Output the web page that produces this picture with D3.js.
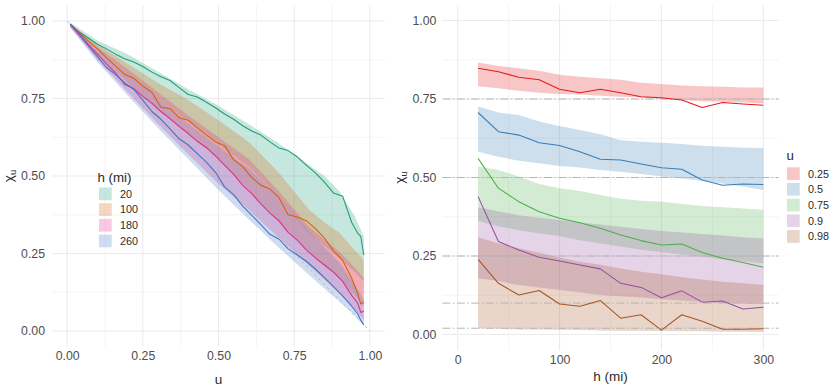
<!DOCTYPE html>
<html lang="en">
    <head>
        <meta charset="utf-8">
        <title>Chi_u curves by distance and by threshold</title>
        <script type="text/javascript" src="https://d3js.org/d3.v7.min.js"></script>
        <style type="text/css">
            body { margin: 0; background: #fff; }
            text { font-family: "Liberation Sans", Arial, sans-serif; font-weight: 400; }
        </style>
    </head>
    <body>
        <script type="text/javascript">
            //Width and height
            var w = 830;
            var h = 392;

            // ---- left panel: chi_u against u, one curve per distance ----
            var distances = ["20", "100", "180", "260"];
            var distColors = ["#1B9E77", "#D95F02", "#E7298A", "#4472C4"];

            var uRibbon = [0.01, 0.1, 0.2, 0.3, 0.4, 0.5, 0.6, 0.7, 0.8, 0.85, 0.9, 0.95, 0.98];
            var low20  = [0.985, 0.91, 0.83, 0.75, 0.675, 0.6, 0.53, 0.43, 0.315, 0.275, 0.235, 0.19, 0.16];
            var high20 = [0.995, 0.937, 0.893, 0.836, 0.78, 0.727, 0.667, 0.605, 0.535, 0.50, 0.45, 0.37, 0.305];
            var low100  = [0.98, 0.89, 0.8, 0.712, 0.635, 0.555, 0.455, 0.35, 0.255, 0.21, 0.17, 0.115, 0.08];
            var high100 = [0.99, 0.925, 0.862, 0.8, 0.745, 0.68, 0.61, 0.51, 0.39, 0.35, 0.316, 0.26, 0.23];
            var low180  = [0.98, 0.875, 0.77, 0.668, 0.57, 0.475, 0.39, 0.3, 0.21, 0.165, 0.12, 0.07, 0.035];
            var high180 = [0.99, 0.915, 0.845, 0.77, 0.695, 0.625, 0.555, 0.45, 0.335, 0.295, 0.255, 0.205, 0.17];
            var low260  = [0.98, 0.868, 0.76, 0.655, 0.555, 0.455, 0.36, 0.268, 0.18, 0.137, 0.094, 0.05, 0.015];
            var high260 = [0.988, 0.905, 0.83, 0.75, 0.67, 0.595, 0.525, 0.43, 0.32, 0.27, 0.22, 0.15, 0.1];

            var uLine = [0.01, 0.04, 0.07, 0.10, 0.13, 0.16, 0.19, 0.22, 0.25, 0.28, 0.31, 0.34, 0.37, 0.40, 0.43, 0.46, 0.49, 0.52,
                         0.55, 0.58, 0.61, 0.64, 0.67, 0.70, 0.73, 0.76, 0.79, 0.82, 0.85, 0.88, 0.91, 0.94, 0.96, 0.97, 0.98];
            var chi20  = [0.99, 0.965, 0.945, 0.925, 0.91, 0.893, 0.878, 0.868, 0.853, 0.835, 0.82, 0.808, 0.785, 0.763, 0.755, 0.738, 0.72, 0.70,
                          0.683, 0.662, 0.645, 0.632, 0.61, 0.59, 0.582, 0.562, 0.535, 0.51, 0.48, 0.445, 0.435, 0.35, 0.315, 0.305, 0.245];
            var chi100 = [0.99, 0.963, 0.935, 0.91, 0.882, 0.855, 0.828, 0.815, 0.79, 0.77, 0.722, 0.718, 0.688, 0.68, 0.655, 0.632, 0.61, 0.598,
                          0.552, 0.53, 0.495, 0.47, 0.458, 0.43, 0.375, 0.368, 0.356, 0.33, 0.3, 0.258, 0.228, 0.17, 0.12, 0.087, 0.093];
            var chi180 = [0.99, 0.96, 0.925, 0.893, 0.862, 0.833, 0.795, 0.782, 0.757, 0.735, 0.708, 0.685, 0.66, 0.637, 0.612, 0.592, 0.565, 0.535,
                          0.505, 0.47, 0.443, 0.41, 0.38, 0.355, 0.318, 0.293, 0.262, 0.236, 0.213, 0.19, 0.16, 0.115, 0.09, 0.06, 0.064];
            var chi260 = [0.99, 0.955, 0.92, 0.885, 0.85, 0.828, 0.8, 0.78, 0.745, 0.708, 0.683, 0.652, 0.62, 0.6, 0.572, 0.545, 0.512, 0.465,
                          0.44, 0.403, 0.373, 0.343, 0.312, 0.296, 0.265, 0.245, 0.225, 0.2, 0.172, 0.143, 0.113, 0.08, 0.055, 0.035, 0.02];

            var uTicks = [0, 0.25, 0.5, 0.75, 1];
            var uMinor = [0.125, 0.375, 0.625, 0.875];

            // ---- right panel: chi_u against distance, one curve per threshold ----
            var thresholds = ["0.25", "0.5", "0.75", "0.9", "0.98"];
            var thrColors = ["#E41A1C", "#377EB8", "#4DAF4A", "#984EA3", "#A65628"];
            var hMiles = [20, 40, 60, 80, 100, 120, 140, 160, 180, 200, 220, 240, 260, 280, 300];

            var chiU025  = [0.848, 0.837, 0.819, 0.811, 0.781, 0.770, 0.781, 0.770, 0.757, 0.754, 0.747, 0.723, 0.739, 0.734, 0.730];
            var lowU025  = [0.791, 0.784, 0.776, 0.770, 0.766, 0.764, 0.760, 0.757, 0.755, 0.751, 0.747, 0.743, 0.741, 0.739, 0.736];
            var highU025 = [0.866, 0.855, 0.848, 0.840, 0.827, 0.821, 0.816, 0.811, 0.802, 0.798, 0.793, 0.791, 0.789, 0.787, 0.787];

            var chiU05  = [0.707, 0.646, 0.635, 0.611, 0.602, 0.582, 0.558, 0.556, 0.543, 0.531, 0.526, 0.492, 0.475, 0.479, 0.478];
            var lowU05  = [0.582, 0.566, 0.553, 0.545, 0.537, 0.532, 0.524, 0.518, 0.511, 0.503, 0.497, 0.490, 0.481, 0.471, 0.460];
            var highU05 = [0.726, 0.707, 0.699, 0.678, 0.664, 0.651, 0.638, 0.619, 0.614, 0.611, 0.607, 0.601, 0.598, 0.595, 0.594];

            var chiU075  = [0.561, 0.466, 0.423, 0.391, 0.370, 0.356, 0.338, 0.317, 0.299, 0.285, 0.288, 0.261, 0.243, 0.229, 0.214];
            var lowU075  = [0.362, 0.345, 0.332, 0.322, 0.314, 0.300, 0.290, 0.280, 0.270, 0.262, 0.255, 0.248, 0.240, 0.233, 0.227];
            var highU075 = [0.535, 0.524, 0.503, 0.479, 0.466, 0.457, 0.444, 0.432, 0.426, 0.423, 0.416, 0.409, 0.405, 0.401, 0.397];

            var chiU09  = [0.439, 0.296, 0.269, 0.246, 0.234, 0.221, 0.209, 0.163, 0.150, 0.117, 0.139, 0.103, 0.107, 0.081, 0.087];
            var lowU09  = [0.179, 0.170, 0.158, 0.150, 0.142, 0.134, 0.126, 0.122, 0.118, 0.112, 0.108, 0.104, 0.100, 0.099, 0.097];
            var highU09 = [0.405, 0.392, 0.380, 0.372, 0.365, 0.357, 0.350, 0.343, 0.336, 0.330, 0.325, 0.320, 0.315, 0.310, 0.306];

            var chiU098  = [0.239, 0.163, 0.126, 0.140, 0.097, 0.090, 0.108, 0.052, 0.063, 0.014, 0.063, 0.042, 0.017, 0.017, 0.018];
            var lowU098  = [0.020, 0.018, 0.016, 0.016, 0.015, 0.014, 0.013, 0.012, 0.012, 0.011, 0.010, 0.010, 0.009, 0.009, 0.008];
            var highU098 = [0.310, 0.290, 0.275, 0.260, 0.245, 0.232, 0.222, 0.210, 0.200, 0.192, 0.182, 0.175, 0.168, 0.163, 0.158];

            var refLevels = [0.75, 0.5, 0.25, 0.1, 0.02];
            var hTicks = [0, 100, 200, 300];
            var hMinor = [50, 150, 250];
            var chiTicks = [0, 0.25, 0.5, 0.75, 1];
            var chiMinor = [0.125, 0.375, 0.625, 0.875];

            var fontStack = '"Liberation Sans", Arial, sans-serif';
            var tickColor = "#4D4D4D";
            var titleColor = "#2B2B2B";
            var fillAlpha = 0.25;

            //Create SVG element
            var svg = d3.select("body")
                        .append("svg")
                        .attr("width", w)
                        .attr("height", h);

            function zipRibbon(xs, lo, hi) {
                return xs.map(function(x, i) { return {x: x, lo: lo[i], hi: hi[i]}; });
            }
            function zipLine(xs, ys) {
                return xs.map(function(x, i) { return {x: x, y: ys[i]}; });
            }

            function drawGrid(g, x, y, xMajor, xMinorV, yMajor, yMinorV) {
                var x0 = x.range()[0], x1 = x.range()[1];
                var y0 = y.range()[0], y1 = y.range()[1];
                g.selectAll("line.ymin").data(yMinorV).enter().append("line")
                    .attr("x1", x0).attr("x2", x1)
                    .attr("y1", function(d) { return y(d); }).attr("y2", function(d) { return y(d); })
                    .attr("stroke", "#EBEBEB").attr("stroke-width", 0.55);
                g.selectAll("line.xmin").data(xMinorV).enter().append("line")
                    .attr("y1", y0).attr("y2", y1)
                    .attr("x1", function(d) { return x(d); }).attr("x2", function(d) { return x(d); })
                    .attr("stroke", "#EBEBEB").attr("stroke-width", 0.55);
                g.selectAll("line.ymaj").data(yMajor).enter().append("line")
                    .attr("x1", x0).attr("x2", x1)
                    .attr("y1", function(d) { return y(d); }).attr("y2", function(d) { return y(d); })
                    .attr("stroke", "#EBEBEB").attr("stroke-width", 1.07);
                g.selectAll("line.xmaj").data(xMajor).enter().append("line")
                    .attr("y1", y0).attr("y2", y1)
                    .attr("x1", function(d) { return x(d); }).attr("x2", function(d) { return x(d); })
                    .attr("stroke", "#EBEBEB").attr("stroke-width", 1.07);
            }

            function drawAxes(x, y, xTicks, xFmt, yTicks, xPad, yPad) {
                var xa = svg.append("g")
                    .attr("transform", "translate(0," + y.range()[0] + ")")
                    .call(d3.axisBottom(x).tickValues(xTicks).tickFormat(xFmt).tickSize(0).tickPadding(xPad));
                var ya = svg.append("g")
                    .attr("transform", "translate(" + x.range()[0] + ",0)")
                    .call(d3.axisLeft(y).tickValues(yTicks).tickFormat(d3.format(".2f")).tickSize(0).tickPadding(yPad));
                [xa, ya].forEach(function(a) {
                    a.select(".domain").remove();
                    a.selectAll("text")
                        .attr("font-family", fontStack)
                        .attr("font-size", "12.3px")
                        .attr("fill", tickColor);
                });
            }

            function chiTitle(cx, cy) {
                var t = svg.append("text")
                    .attr("transform", "translate(" + cx + "," + cy + ") rotate(-90)")
                    .attr("text-anchor", "middle")
                    .attr("font-family", fontStack)
                    .attr("font-size", "13.5px")
                    .attr("font-weight", 400)
                    .attr("fill", titleColor);
                t.append("tspan").text("χ");
                t.append("tspan").attr("font-size", "9.5px").attr("dy", "3").text("u");
            }

            // ================= LEFT PANEL =================
            var xL = d3.scaleLinear().domain([-0.05, 1.05]).range([52, 385]);
            var yL = d3.scaleLinear().domain([-0.05, 1.05]).range([346.5, 5.5]);

            var gL = svg.append("g");
            drawGrid(gL, xL, yL, uTicks, uMinor, uTicks, uMinor);

            var ribbonsL = [zipRibbon(uRibbon, low20, high20), zipRibbon(uRibbon, low100, high100),
                            zipRibbon(uRibbon, low180, high180), zipRibbon(uRibbon, low260, high260)];
            var linesL = [zipLine(uLine, chi20), zipLine(uLine, chi100), zipLine(uLine, chi180), zipLine(uLine, chi260)];

            var areaL = d3.area()
                .x(function(d) { return xL(d.x); })
                .y0(function(d) { return yL(d.lo); })
                .y1(function(d) { return yL(d.hi); });
            var lineL = d3.line()
                .x(function(d) { return xL(d.x); })
                .y(function(d) { return yL(d.y); });

            gL.selectAll("path.rib").data(ribbonsL).enter().append("path")
                .attr("d", areaL)
                .attr("fill", function(d, i) { return distColors[i]; })
                .attr("fill-opacity", fillAlpha);

            // reference diagonal 1 - u
            gL.append("path")
                .attr("d", lineL([{x: 0, y: 1}, {x: 1, y: 0}]))
                .attr("fill", "none")
                .attr("stroke", "#BEBEBE")
                .attr("stroke-width", 1)
                .attr("stroke-dasharray", "3,3");

            gL.selectAll("path.ln").data(linesL).enter().append("path")
                .attr("d", lineL)
                .attr("fill", "none")
                .attr("stroke", function(d, i) { return distColors[i]; })
                .attr("stroke-width", 1.05)
                .attr("stroke-linejoin", "round");

            drawAxes(xL, yL, uTicks, d3.format(".2f"), chiTicks, 5, 7);

            svg.append("text")
                .attr("x", 218.5).attr("y", 384)
                .attr("text-anchor", "middle")
                .attr("font-family", fontStack).attr("font-size", "13.5px").attr("font-weight", 400)
                .attr("fill", titleColor)
                .text("u");
            chiTitle(13, 176);

            // legend inside the panel
            var legL = svg.append("g");
            legL.append("text")
                .attr("x", 97.5).attr("y", 182)
                .attr("font-family", fontStack).attr("font-size", "13.3px").attr("font-weight", 400)
                .attr("fill", titleColor)
                .text("h (mi)");
            legL.selectAll("rect").data(distances).enter().append("rect")
                .attr("x", 99).attr("y", function(d, i) { return 187.5 + i * 15.7; })
                .attr("width", 12.7).attr("height", 12.7)
                .attr("fill", function(d, i) { return distColors[i]; })
                .attr("fill-opacity", fillAlpha);
            legL.selectAll("text.lab").data(distances).enter().append("text")
                .attr("x", 120).attr("y", function(d, i) { return 187.5 + i * 15.7 + 10.2; })
                .attr("font-family", fontStack).attr("font-size", "10.8px")
                .attr("fill", titleColor)
                .text(function(d) { return d; });

            // ================= RIGHT PANEL =================
            var xR = d3.scaleLinear().domain([-15, 315]).range([442.4, 778.6]);
            var yR = d3.scaleLinear().domain([-0.05, 1.05]).range([350.2, 4.8]);

            var gR = svg.append("g");
            drawGrid(gR, xR, yR, hTicks, hMinor, chiTicks, chiMinor);

            var ribbonsR = [zipRibbon(hMiles, lowU025, highU025), zipRibbon(hMiles, lowU05, highU05),
                            zipRibbon(hMiles, lowU075, highU075), zipRibbon(hMiles, lowU09, highU09),
                            zipRibbon(hMiles, lowU098, highU098)];
            var linesR = [zipLine(hMiles, chiU025), zipLine(hMiles, chiU05), zipLine(hMiles, chiU075),
                          zipLine(hMiles, chiU09), zipLine(hMiles, chiU098)];

            var areaR = d3.area()
                .x(function(d) { return xR(d.x); })
                .y0(function(d) { return yR(d.lo); })
                .y1(function(d) { return yR(d.hi); });
            var lineR = d3.line()
                .x(function(d) { return xR(d.x); })
                .y(function(d) { return yR(d.y); });

            gR.selectAll("path.rib").data(ribbonsR).enter().append("path")
                .attr("d", areaR)
                .attr("fill", function(d, i) { return thrColors[i]; })
                .attr("fill-opacity", fillAlpha);

            gR.selectAll("line.ref").data(refLevels).enter().append("line")
                .attr("x1", xR.range()[0]).attr("x2", xR.range()[1])
                .attr("y1", function(d) { return yR(d); }).attr("y2", function(d) { return yR(d); })
                .attr("stroke", "#B5B5B5")
                .attr("stroke-width", 1)
                .attr("stroke-dasharray", "8,2.5,1.5,2.5");

            gR.selectAll("path.ln").data(linesR).enter().append("path")
                .attr("d", lineR)
                .attr("fill", "none")
                .attr("stroke", function(d, i) { return thrColors[i]; })
                .attr("stroke-width", 1.05)
                .attr("stroke-linejoin", "round");

            drawAxes(xR, yR, hTicks, d3.format("d"), chiTicks, 5.3, 6);

            svg.append("text")
                .attr("x", 610.5).attr("y", 381)
                .attr("text-anchor", "middle")
                .attr("font-family", fontStack).attr("font-size", "13.5px").attr("font-weight", 400)
                .attr("fill", titleColor)
                .text("h (mi)");
            chiTitle(404, 177.5);

            // legend to the right
            var legR = svg.append("g");
            legR.append("text")
                .attr("x", 786.5).attr("y", 159.5)
                .attr("font-family", fontStack).attr("font-size", "13.3px").attr("font-weight", 400)
                .attr("fill", titleColor)
                .text("u");
            legR.selectAll("rect").data(thresholds).enter().append("rect")
                .attr("x", 787).attr("y", function(d, i) { return 167.3 + i * 15.7; })
                .attr("width", 12.7).attr("height", 12.7)
                .attr("fill", function(d, i) { return thrColors[i]; })
                .attr("fill-opacity", fillAlpha);
            legR.selectAll("text.lab").data(thresholds).enter().append("text")
                .attr("x", 808).attr("y", function(d, i) { return 167.3 + i * 15.7 + 10.2; })
                .attr("font-family", fontStack).attr("font-size", "10.8px")
                .attr("fill", titleColor)
                .text(function(d) { return d; });

        </script>
    </body>
</html>
